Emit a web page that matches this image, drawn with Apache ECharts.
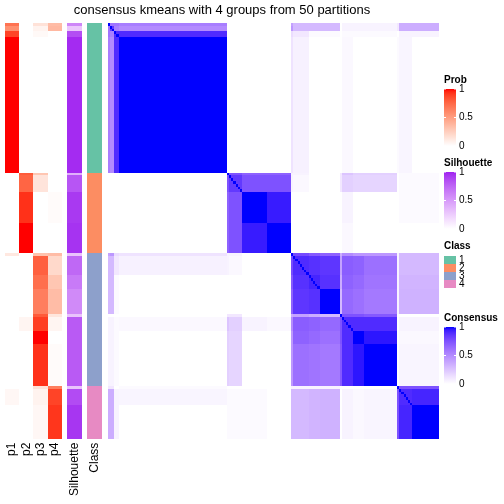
<!DOCTYPE html>
<html><head><meta charset="utf-8">
<script src="https://cdn.jsdelivr.net/npm/echarts@6/dist/echarts.min.js"></script>
<style>html,body{margin:0;padding:0;background:#fff}#c{width:504px;height:504px}</style>
</head><body><div id="c"></div>
<script>
// ---- data: samples are grouped in consecutive segments (display order, top to bottom) ----
const segSizes = [1,2,2,49, 1,6,11,11, 1,7,5,9,1,5,5,15, 1,6,12];
const segClass = [1,1,1,1, 2,2,2,2, 3,3,3,3,3,3,3,3, 4,4,4];
const probP1 = [0.70,0.57,0.88,1.00, 0,0,0,0, 0.12,0,0,0,0,0,0,0, 0,0.04,0];
const probP2 = [0,0,0,0, 0.80,0.76,0.93,1.00, 0,0,0,0,0,0.05,0,0, 0,0,0];
const probP3 = [0.15,0.06,0.03,0, 0.30,0.14,0,0, 0.32,0.78,0.72,0.65,0.80,0.90,1.00,0.93, 0.15,0.06,0.04];
const probP4 = [0.35,0.37,0,0, 0,0,0.02,0, 0.35,0.20,0.30,0.35,0.13,0.05,0,0.02, 0.65,0.88,0.92];
const silhouette = [0.60,0.28,0.85,0.97, 0.40,0.82,0.93,0.95, 0.30,0.74,0.66,0.58,0.30,0.80,0.80,0.80, 0.30,0.86,0.94];
// consensus between segments (upper triangle, row i lists columns i..18)
const consensusUpper = [
 [1,0.6,0.6,0.56, 0,0,0,0, 0.4,0.3,0.3,0.3, 0,0.05,0.05,0.05, 0.1,0.35,0.35],
 [0.85,0.55,0.5, 0,0,0,0, 0.45,0.3,0.3,0.3, 0,0.05,0.05,0.05, 0.1,0.35,0.35],
 [0.9,0.9, 0,0,0,0, 0.15,0.1,0.02,0.02, 0,0.02,0.02,0.02, 0,0.05,0.05],
 [1, 0,0,0,0, 0.12,0.06,0,0, 0,0.03,0,0, 0.02,0.04,0],
 [1,0.75,0.68,0.68, 0.05,0.05,0,0, 0.1,0.25,0.2,0.2, 0,0.02,0.02],
 [0.85,0.75,0.75, 0.05,0.03,0,0, 0.1,0.2,0.18,0.18, 0,0.02,0.02],
 [1,0.95, 0,0,0,0, 0,0.05,0,0, 0,0.02,0.02],
 [1, 0,0,0,0, 0,0.03,0,0, 0,0,0],
 [1,0.78,0.72,0.68, 0.35,0.5,0.45,0.45, 0.05,0.3,0.3],
 [0.9,0.88,0.86, 0.4,0.7,0.68,0.62, 0.05,0.3,0.3],
 [0.92,0.88, 0.35,0.68,0.65,0.6, 0.05,0.32,0.32],
 [1, 0.3,0.65,0.62,0.58, 0.05,0.33,0.33],
 [1,0.75,0.75,0.72, 0,0,0],
 [0.9,0.9,0.9, 0,0.05,0.05],
 [1,0.96, 0,0.03,0.03],
 [1, 0,0.04,0.04],
 [1,0.75,0.75],
 [0.9,0.92],
 [1]
];
const annoLabels = ['p1','p2','p3','p4'];
const classLabels = ['1','2','3','4'];
const classColors = ['#66c2a5','#fc8d62','#8da0cb','#e78ac3'];
const legendTicks = ['1','0.5','0'];
const titleText = 'consensus kmeans with 4 groups from 50 partitions';

// ---- LAB colour ramps (like colorRamp2) ----
function s2l(c){c/=255;return c<=0.04045?c/12.92:Math.pow((c+0.055)/1.055,2.4);}
function l2s(c){c=c<=0.0031308?12.92*c:1.055*Math.pow(c,1/2.4)-0.055;return Math.round(Math.max(0,Math.min(1,c))*255);}
function hex2lab(h){const r=s2l(parseInt(h.substr(1,2),16)),g=s2l(parseInt(h.substr(3,2),16)),b=s2l(parseInt(h.substr(5,2),16));
 let X=(0.4124*r+0.3576*g+0.1805*b)/0.95047,Y=0.2126*r+0.7152*g+0.0722*b,Z=(0.0193*r+0.1192*g+0.9505*b)/1.08883;
 const f=t=>t>0.008856?Math.cbrt(t):7.787*t+16/116;const fx=f(X),fy=f(Y),fz=f(Z);
 return [116*fy-16,500*(fx-fy),200*(fy-fz)];}
function lab2hex(L,a,b){const fy=(L+16)/116,fx=fy+a/500,fz=fy-b/200;const fi=t=>t>0.206893?t*t*t:(t-16/116)/7.787;
 const X=0.95047*fi(fx),Y=fi(fy),Z=1.08883*fi(fz);
 const r=3.2406*X-1.5372*Y-0.4986*Z,g=-0.9689*X+1.8758*Y+0.0415*Z,bb=0.0557*X-0.2040*Y+1.0570*Z;
 return '#'+[l2s(r),l2s(g),l2s(bb)].map(v=>v.toString(16).padStart(2,'0')).join('');}
function ramp(c1,c2,n){const a=hex2lab(c1),b=hex2lab(c2),out=[];for(let i=0;i<=n;i++){const t=i/n;out.push(lab2hex(a[0]+(b[0]-a[0])*t,a[1]+(b[1]-a[1])*t,a[2]+(b[2]-a[2])*t));}return out;}
const redStops=ramp('#ffffff','#ff0000',20), purpleStops=ramp('#ffffff','#a020f0',20), blueStops=ramp('#ffffff','#0000ff',20);

// ---- expand to samples ----
const segOf=[]; segSizes.forEach((n,s)=>{for(let i=0;i<n;i++)segOf.push(s);});
const N=segOf.length; const ids=segOf.map((s,i)=>String(i));
const M=segSizes.map(()=>[]);
consensusUpper.forEach((row,i)=>row.forEach((v,k)=>{M[i][i+k]=v;M[i+k][i]=v;}));
const probArrs=[probP1,probP2,probP3,probP4];
const probData=[],silData=[],classData=[],consData=[];
for(let k=0;k<N;k++){const s=segOf[k];
 probArrs.forEach((arr,c)=>probData.push([c,k,arr[s]]));
 silData.push([0,k,silhouette[s]]);
 classData.push([0,k,segClass[s]]);
 for(let j=0;j<N;j++) consData.push([j,k,j===k?1:M[s][segOf[j]]]);
}

const FONT='"Liberation Sans", Arial, Helvetica, sans-serif';
const gTop=23,gH=415.7;
const grid=[{left:5,top:gTop,width:56.7,height:gH},{left:67.4,top:gTop,width:14.2,height:gH},
 {left:87.4,top:gTop,width:14.2,height:gH},{left:107.5,top:gTop,width:331.5,height:gH}];
function xa(gi,data,show){return {type:'category',gridIndex:gi,data,position:'bottom',axisLine:{show:false},axisTick:{show:false},splitLine:{show:false},
 axisLabel:{show,rotate:90,fontSize:12,color:'#000',margin:4,fontFamily:FONT,interval:0}};}
function ya(gi){return {type:'category',gridIndex:gi,data:ids,inverse:true,show:false};}
// cells snapped to whole pixels so neighbouring cells meet without seams
function cells(i,data){return {type:'custom',xAxisIndex:i,yAxisIndex:i,data,encode:{x:0,y:1},animation:false,silent:true,
 renderItem:(params,api)=>{const p=api.coord([api.value(0),api.value(1)]);const sz=api.size([1,1]);
  const x0=Math.round(p[0]-sz[0]/2),x1=Math.round(p[0]+sz[0]/2),y0=Math.round(p[1]-sz[1]/2),y1=Math.round(p[1]+sz[1]/2);
  return {type:'rect',shape:{x:x0,y:y0,width:x1-x0,height:y1-y0},style:{fill:api.visual('color')}};}};}

// ---- legends ----
const graphics=[{type:'text',x:222,y:10,style:{text:titleText,fontSize:13,fontFamily:FONT,fill:'#000',textAlign:'center',textVerticalAlign:'middle',align:'center',verticalAlign:'middle'}}];
function contLegend(title,T,stops){
 graphics.push({type:'text',x:444,y:T,style:{text:title,fontSize:10,fontWeight:'bold',fontFamily:FONT,fill:'#000',textVerticalAlign:'middle',verticalAlign:'middle'}});
 const cs=stops.map((c,i)=>({offset:1-i/(stops.length-1),color:c}));
 graphics.push({type:'rect',shape:{x:444,y:T+9,width:12,height:57},style:{fill:{type:'linear',x:0,y:0,x2:0,y2:1,colorStops:cs.reverse()}}});
 legendTicks.forEach((t,i)=>{const y=T+9+i*28.5;
  graphics.push({type:'text',x:459,y,style:{text:t,fontSize:10,fontFamily:FONT,fill:'#000',textVerticalAlign:'middle',verticalAlign:'middle'}});
  graphics.push({type:'line',shape:{x1:444,y1:y,x2:446,y2:y},style:{stroke:'#fff',lineWidth:1}});
  graphics.push({type:'line',shape:{x1:454,y1:y,x2:456,y2:y},style:{stroke:'#fff',lineWidth:1}});
 });
}
contLegend('Prob',80,redStops);
contLegend('Silhouette',163,purpleStops);
graphics.push({type:'text',x:444,y:246,style:{text:'Class',fontSize:10,fontWeight:'bold',fontFamily:FONT,fill:'#000',textVerticalAlign:'middle',verticalAlign:'middle'}});
classLabels.forEach((l,i)=>{
 graphics.push({type:'rect',shape:{x:444,y:256+i*8,width:12,height:8},style:{fill:classColors[i]}});
 graphics.push({type:'text',x:459,y:260+i*8,style:{text:l,fontSize:10,fontFamily:FONT,fill:'#000',textVerticalAlign:'middle',verticalAlign:'middle'}});
});
contLegend('Consensus',318,blueStops);

const chart=echarts.init(document.getElementById('c'),null,{renderer:'canvas'});
chart.setOption({
 animation:false,backgroundColor:'#fff',
 grid,
 xAxis:[xa(0,annoLabels,true),xa(1,['Silhouette'],true),xa(2,['Class'],true),xa(3,ids,false)],
 yAxis:[ya(0),ya(1),ya(2),ya(3)],
 visualMap:[
  {type:'continuous',min:0,max:1,dimension:2,seriesIndex:0,show:false,inRange:{color:redStops}},
  {type:'continuous',min:0,max:1,dimension:2,seriesIndex:1,show:false,inRange:{color:purpleStops}},
  {type:'piecewise',dimension:2,seriesIndex:2,show:false,pieces:classColors.map((c,i)=>({value:i+1,color:c}))},
  {type:'continuous',min:0,max:1,dimension:2,seriesIndex:3,show:false,inRange:{color:blueStops}}
 ],
 series:[cells(0,probData),cells(1,silData),cells(2,classData),cells(3,consData)],
 graphic:graphics
});
</script></body></html>
